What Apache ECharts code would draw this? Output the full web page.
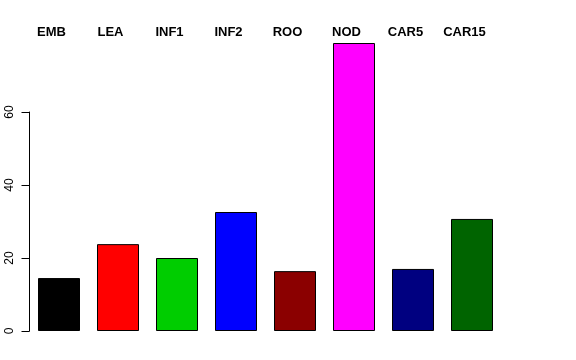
<!DOCTYPE html>
<html><head><meta charset="utf-8">
<script src="https://cdn.jsdelivr.net/npm/echarts@6/dist/echarts.min.js"></script>
<style>html,body{margin:0;padding:0;background:#fff}#c{width:576px;height:360px}</style>
</head><body><div id="c"></div>
<script>
const categories = ["EMB","LEA","INF1","INF2","ROO","NOD","CAR5","CAR15"];
const values = [14.5, 23.8, 20.0, 32.6, 16.4, 78.9, 17.0, 30.7];
const colors = ["#000000","#FF0000","#00CD00","#0000FF","#8B0000","#FF00FF","#000080","#006400"];
const yTicks = [0, 20, 40, 60];

const chart = echarts.init(document.getElementById('c'), null, {renderer:'canvas'});
chart.setOption({
  animation: false,
  backgroundColor: '#fff',
  grid: [
    {left: 29.5, right: 74.5, top: 39, bottom: 29, containLabel: false},
    {left: 29.5, right: 74.5, top: 112, bottom: 29, containLabel: false}
  ],
  xAxis: [
    {type: 'category', data: categories, gridIndex: 0, position: 'top',
     axisLine: {show: false}, axisTick: {show: false},
     axisLabel: {show: true, margin: 0, fontFamily: 'Liberation Sans, Arial, sans-serif',
       fontWeight: 'bold', fontSize: 13, color: '#000', padding: [0, 15, 0, 0], interval: 0}},
    {type: 'category', data: categories, gridIndex: 1, show: false}
  ],
  yAxis: [
    {type: 'value', gridIndex: 0, min: 0, max: 80, show: false},
    {type: 'value', gridIndex: 1, min: 0, max: 60, interval: 20,
     axisLine: {show: true, lineStyle: {color: '#000', width: 1}},
     axisTick: {show: true, length: 8, lineStyle: {color: '#000'}},
     splitLine: {show: false},
     axisLabel: {rotate: 90, margin: 14, fontSize: 12, color: '#000',
       fontFamily: 'Liberation Sans, Arial, sans-serif'}}
  ],
  series: [{
    type: 'bar', xAxisIndex: 0, yAxisIndex: 0, barWidth: 42,
    data: values.map((v, i) => ({value: v, itemStyle: {color: colors[i]}})),
    itemStyle: {borderColor: '#000', borderWidth: 1}
  }]
});
</script></body></html>
